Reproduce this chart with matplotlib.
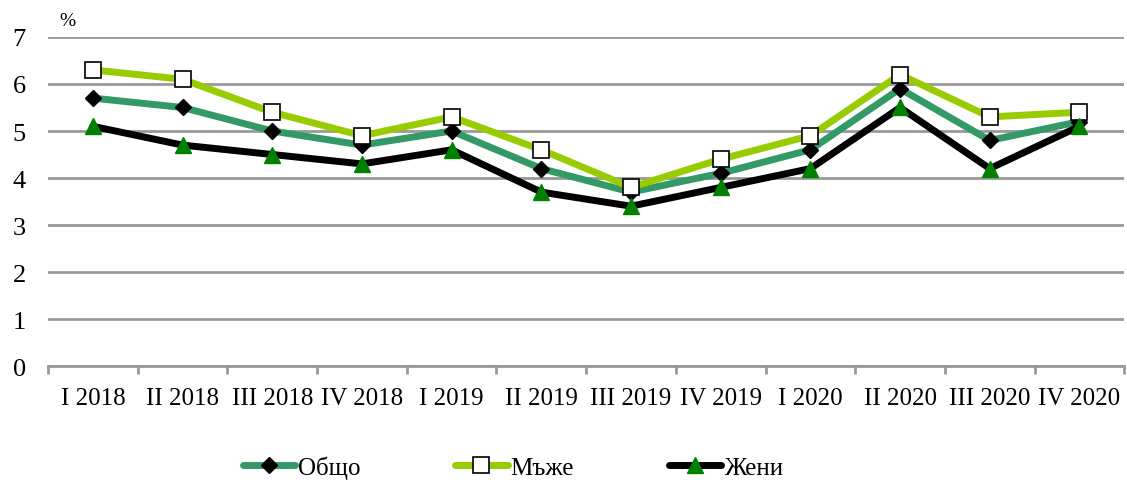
import numpy as np
import matplotlib.pyplot as plt

plt.rcParams['font.family'] = ['Liberation Serif', 'DejaVu Serif']

quarters = ["I 2018", "II 2018", "III 2018", "IV 2018", "I 2019", "II 2019",
            "III 2019", "IV 2019", "I 2020", "II 2020", "III 2020", "IV 2020"]
total = [5.7, 5.5, 5.0, 4.7, 5.0, 4.2, 3.7, 4.1, 4.6, 5.9, 4.8, 5.2]
men = [6.3, 6.1, 5.4, 4.9, 5.3, 4.6, 3.8, 4.4, 4.9, 6.2, 5.3, 5.4]
women = [5.1, 4.7, 4.5, 4.3, 4.6, 3.7, 3.4, 3.8, 4.2, 5.5, 4.2, 5.1]

x = np.arange(len(quarters))

fig = plt.figure(figsize=(11.27, 4.81), dpi=100)
ax = fig.add_axes([0.0426, 0.237, 0.955, 0.684])

ax.plot(x, total, color="#339966", lw=5, marker="D", ms=8,
        mfc="black", mec="black", label="Общо", solid_capstyle="round")
ax.plot(x, men, color="#99CC00", lw=5, marker="s", ms=11,
        mfc="white", mec="black", mew=1.2, label="Мъже", solid_capstyle="round")
ax.plot(x, women, color="black", lw=5, marker="^", ms=11,
        mfc="#008000", mec="#008000", label="Жени", solid_capstyle="round")

ax.set_xlim(-0.5, len(quarters) - 0.5)
ax.set_ylim(0, 7)
ax.set_yticks(range(0, 8))
ax.yaxis.grid(True, color="#999999", lw=2)
ax.set_axisbelow(True)
ax.tick_params(axis="y", length=0, labelsize=19, pad=16)

ax.set_xticks(x)
ax.set_xticklabels(quarters)
ax.set_xticks(np.arange(-0.5, len(quarters)), minor=True)
ax.tick_params(axis="x", which="major", length=0, labelsize=18, pad=15)
ax.tick_params(axis="x", which="minor", length=6, width=2, color="#999999")

for s in ["top", "right", "left"]:
    ax.spines[s].set_visible(False)
ax.spines["bottom"].set_color("#999999")
ax.spines["bottom"].set_linewidth(2)

fig.text(0.053, 0.945, "%", fontsize=14)

fig.legend(loc="lower center", bbox_to_anchor=(0.455, -0.045), ncol=3,
           frameon=False, fontsize=18, handlelength=2.1, handletextpad=0.1,
           columnspacing=3.8)

fig.savefig("out.png", dpi=100)
